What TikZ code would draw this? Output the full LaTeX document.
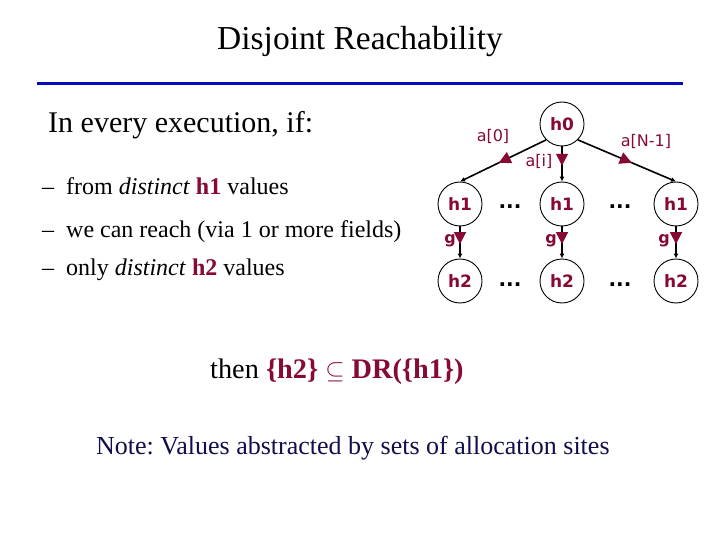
\documentclass[tikz,border=0pt]{standalone}
\usepackage{fontspec}
\setmainfont{Liberation Serif}
\newfontfamily\treefont{DejaVu Sans}
\usetikzlibrary{arrows.meta,decorations.markings}
\definecolor{maroon}{RGB}{135,10,50}
\definecolor{navytext}{RGB}{15,15,75}
\definecolor{rulecol}{RGB}{10,10,190}
\frenchspacing
\begin{document}
\begin{tikzpicture}[x=1pt,y=-1pt,
  txt/.style={inner sep=0pt, anchor=base west},
  hnode/.style={circle, draw=black, line width=0.9pt, minimum size=44pt, inner sep=0pt,
    font=\treefont\bfseries\fontsize{17}{19}\selectfont, text=maroon},
  lbl/.style={inner sep=0pt, font=\treefont\fontsize{16}{18}\selectfont, text=maroon},
  glbl/.style={inner sep=0pt, font=\treefont\bfseries\fontsize{16}{18}\selectfont, text=maroon},
  dotsn/.style={inner sep=0pt, anchor=base, font=\treefont\bfseries\fontsize{20}{22}\selectfont},
  edge/.style={line width=1.6pt, -{Latex[length=5pt,width=5pt]}, postaction={decorate},
    decoration={markings, mark=at position 0.55 with {\arrow[maroon]{Triangle[length=12pt,width=12pt]}}}}
]
\useasboundingbox (0,0) rectangle (720,540);
% title
\node[anchor=base, inner sep=0pt, font=\fontsize{33.5}{37}\selectfont] (title) at (360,50) {Disjoint Reachability};
\draw[rulecol, line width=3pt] (37,84) -- (683,84);
% text
\node[txt, font=\fontsize{30}{34}\selectfont] (intro) at (48,133) {In every execution, if:};
\begin{scope}[font=\fontsize{24}{28}\selectfont]
\node[txt] (d1) at (42,195) {--};
\node[txt] (t1) at (66,195) {from \textit{distinct} \textcolor{maroon}{\textbf{h1}} values};
\node[txt] (d2) at (42,237) {--};
\node[txt] (t2) at (66,237) {we can reach (via 1 or more fields)};
\node[txt] (d3) at (42,275) {--};
\node[txt] (t3) at (66,275) {only \textit{distinct} \textcolor{maroon}{\textbf{h2}} values};
\end{scope}
\node[txt, font=\fontsize{28.3}{32}\selectfont] (concl) at (210,378) {then \textcolor{maroon}{\textbf{\{h2\} $\subseteq$ DR(\{h1\})}}};
\node[txt, font=\fontsize{26}{30}\selectfont, text=navytext] (note) at (96,454) {Note: Values abstracted by sets of allocation sites};
% tree
\node[hnode] (h0) at (562,124) {h0};
\node[hnode] (h1a) at (460,204) {h1};
\node[hnode] (h1b) at (562,204) {h1};
\node[hnode] (h1c) at (676,204) {h1};
\node[hnode] (h2a) at (460,281) {h2};
\node[hnode] (h2b) at (562,281) {h2};
\node[hnode] (h2c) at (676,281) {h2};
\node[dotsn] (da1) at (510,209) {...};
\node[dotsn] (db1) at (620,209) {...};
\node[dotsn] (da2) at (510,286) {...};
\node[dotsn] (db2) at (620,286) {...};
\draw[edge] (h0.-135) -- (h1a.north);
\draw[edge] (h0) -- (h1b);
\draw[edge] (h0.-45) -- (h1c.north);
\draw[edge] (h1a) -- (h2a);
\draw[edge] (h1b) -- (h2b);
\draw[edge] (h1c) -- (h2c);
\node[lbl] (la0) at (493,136) {a[0]};
\node[lbl] (lai) at (539,161) {a[i]};
\node[lbl] (laN) at (646,141) {a[N-1]};
\node[glbl] (g1) at (450,241) {g};
\node[glbl] (g2) at (551,241) {g};
\node[glbl] (g3) at (664,241) {g};
\end{tikzpicture}
\end{document}
